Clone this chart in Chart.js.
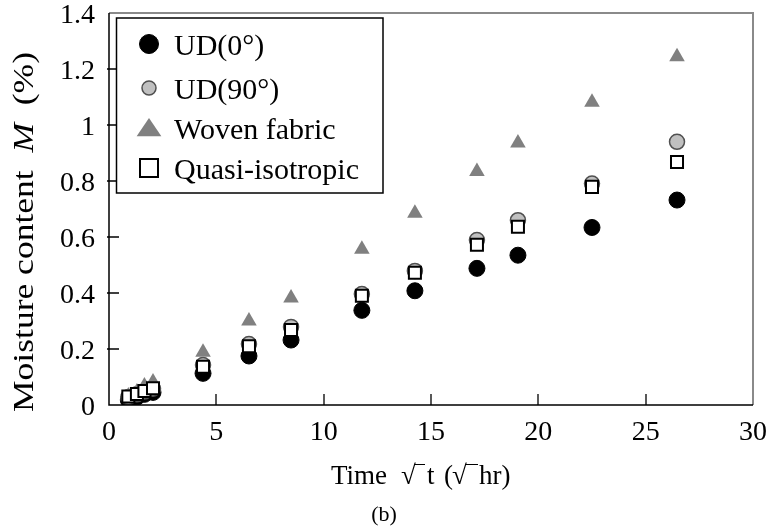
<!DOCTYPE html>
<html>
<head>
<meta charset="utf-8">
<script src="https://cdn.jsdelivr.net/npm/chart.js@4.4.1/dist/chart.umd.min.js"></script>
<style>
  html, body { margin: 0; padding: 0; background: #fff; }
  #wrap { position: relative; width: 773px; height: 526px; }
</style>
</head>
<body>
<div id="wrap"><canvas id="moisture" width="773" height="526"></canvas></div>
<script>
// sqrt(time) values, one per measurement
const timeSqrtHr = [0.9, 1.3, 1.65, 2.05, 4.38, 6.52, 8.48, 11.78, 14.25, 17.14, 19.05, 22.5, 26.46];

// moisture content M (%)
const ud0   = [0.018, 0.028, 0.038, 0.045, 0.113, 0.175, 0.232, 0.338, 0.408, 0.488, 0.535, 0.634, 0.732];
const ud90  = [0.028, 0.038, 0.048, 0.058, 0.143, 0.218, 0.279, 0.396, 0.479, 0.589, 0.660, 0.791, 0.940];
const woven = [0.032, 0.046, 0.068, 0.082, 0.188, 0.300, 0.382, 0.556, 0.685, 0.834, 0.936, 1.081, 1.244];
const quasi = [0.030, 0.039, 0.050, 0.060, 0.137, 0.210, 0.268, 0.390, 0.472, 0.572, 0.637, 0.779, 0.868];

const seriesNames = ['UD(0°)', 'UD(90°)', 'Woven fabric', 'Quasi-isotropic'];
const xTicks = [0, 5, 10, 15, 20, 25, 30];
const yTicks = [0, 0.2, 0.4, 0.6, 0.8, 1, 1.2, 1.4];

const serif = "'Liberation Serif', 'Times New Roman', serif";

const toPoints = vals => vals.map((v, i) => ({ x: timeSqrtHr[i], y: v }));

// marker look per series (plot / legend)
const looks = [
  { style: 'circle',   r: 8,   fill: '#000000', line: '#000000', lw: 1,   order: 4, lr: 9.5 },
  { style: 'circle',   r: 7.5, fill: '#c0c0c0', line: '#505050', lw: 1.5, order: 3, lr: 7 },
  { style: 'triangle', r: 9,   fill: '#808080', line: '#808080', lw: 0,   order: 2, lr: 13 },
  { style: 'rect',     r: 8.5, fill: '#ffffff', line: '#000000', lw: 2,   order: 1, lr: 12.5 }
];

const values = [ud0, ud90, woven, quasi];

const datasets = values.map((vals, i) => ({
  label: seriesNames[i],
  data: toPoints(vals),
  pointStyle: looks[i].style,
  pointRadius: looks[i].r,
  pointBackgroundColor: looks[i].fill,
  pointBorderColor: looks[i].line,
  pointBorderWidth: looks[i].lw,
  showLine: false,
  order: looks[i].order
}));

function drawMarker(ctx, look, x, y, r) {
  ctx.save();
  ctx.fillStyle = look.fill;
  ctx.strokeStyle = look.line;
  ctx.lineWidth = look.lw;
  ctx.beginPath();
  if (look.style === 'circle') {
    ctx.arc(x, y, r, 0, Math.PI * 2);
  } else if (look.style === 'triangle') {
    const h = r * 1.4;
    ctx.moveTo(x, y - h * 0.55);
    ctx.lineTo(x + r * 0.95, y + h * 0.45);
    ctx.lineTo(x - r * 0.95, y + h * 0.45);
    ctx.closePath();
  } else {
    const s = r * 0.72;
    ctx.rect(x - s, y - s, s * 2, s * 2);
  }
  ctx.fill();
  if (look.lw > 0) ctx.stroke();
  ctx.restore();
}

const decorations = {
  id: 'decorations',
  afterDraw(chart) {
    const { ctx, chartArea: a, scales } = chart;
    ctx.save();

    // frame: black left/bottom, gray top/right
    ctx.strokeStyle = '#8a8a8a';
    ctx.lineWidth = 2;
    ctx.beginPath();
    ctx.moveTo(a.left, a.top);
    ctx.lineTo(a.right, a.top);
    ctx.lineTo(a.right, a.bottom);
    ctx.stroke();
    ctx.strokeStyle = '#000';
    ctx.lineWidth = 1.5;
    ctx.beginPath();
    ctx.moveTo(a.left, a.top);
    ctx.lineTo(a.left, a.bottom);
    ctx.lineTo(a.right, a.bottom);
    ctx.stroke();

    // inward ticks
    ctx.lineWidth = 1.3;
    ctx.beginPath();
    xTicks.slice(1, -1).forEach(v => {
      const px = Math.round(scales.x.getPixelForValue(v));
      ctx.moveTo(px, a.bottom);
      ctx.lineTo(px, a.bottom - 11);
    });
    yTicks.slice(1, -1).forEach(v => {
      const py = Math.round(scales.y.getPixelForValue(v));
      ctx.moveTo(a.left - 2, py);
      ctx.lineTo(a.left + 10, py);
    });
    ctx.stroke();

    // legend
    ctx.fillStyle = '#fff';
    ctx.fillRect(116.5, 18, 266.5, 175);
    ctx.strokeStyle = '#000';
    ctx.lineWidth = 1.5;
    ctx.strokeRect(116.5, 18, 266.5, 175);
    const rowBase = [55, 99, 139, 179];
    ctx.font = '30px ' + serif;
    ctx.textBaseline = 'alphabetic';
    ctx.textAlign = 'left';
    seriesNames.forEach((name, i) => {
      drawMarker(ctx, looks[i], 149, rowBase[i] - 11, looks[i].lr);
      ctx.fillStyle = '#000';
      ctx.fillText(name, 174, rowBase[i]);
    });

    // y title with italic M
    ctx.fillStyle = '#000';
    ctx.save();
    ctx.translate(33, 232);
    ctx.rotate(-Math.PI / 2);
    const parts = [
      { t: 'Moisture content  ', f: '30px ' + serif },
      { t: 'M', f: 'italic 30px ' + serif },
      { t: '  (%)', f: '30px ' + serif }
    ];
    let total = 0;
    parts.forEach(p => { ctx.font = p.f; p.w = ctx.measureText(p.t).width; total += p.w; });
    const k = 360 / total;
    ctx.scale(k, 1);
    let cx = -total / 2;
    parts.forEach(p => { ctx.font = p.f; ctx.fillText(p.t, cx, 0); cx += p.w; });
    ctx.restore();

    // x title: Time √t (√hr)
    ctx.font = '27px ' + serif;
    const base = 484;
    ctx.fillText('Time', 331, base);
    ctx.fillText('\u221A', 401, base);
    ctx.fillText('t', 427, base);
    ctx.fillText('(', 444, base);
    ctx.fillText('\u221A', 452, base);
    ctx.fillText('hr)', 479, base);
    ctx.lineWidth = 1;
    ctx.beginPath();
    ctx.moveTo(414, 464.5); ctx.lineTo(425, 464.5);
    ctx.moveTo(465, 464.5); ctx.lineTo(478, 464.5);
    ctx.stroke();

    // caption
    ctx.font = '22px ' + serif;
    ctx.textAlign = 'center';
    ctx.fillText('(b)', 384, 521);

    ctx.restore();
  }
};

new Chart(document.getElementById('moisture'), {
  type: 'scatter',
  data: { datasets },
  options: {
    responsive: false,
    animation: false,
    layout: { padding: { left: 0, top: 13, right: 20, bottom: 0 } },
    plugins: { legend: { display: false }, tooltip: { enabled: false } },
    scales: {
      x: {
        type: 'linear', min: 0, max: 30,
        afterFit: s => { s.height = 121; s.paddingLeft = 0; s.paddingRight = 0; },
        afterBuildTicks: s => { s.ticks = xTicks.map(v => ({ value: v })); },
        grid: { display: false, drawTicks: false },
        border: { display: false },
        ticks: { color: '#000', font: { family: serif, size: 28 }, padding: 11, maxRotation: 0 }
      },
      y: {
        type: 'linear', min: 0, max: 1.4,
        afterFit: s => { s.width = 109; s.paddingTop = 0; s.paddingBottom = 0; },
        afterBuildTicks: s => { s.ticks = yTicks.map(v => ({ value: v })); },
        grid: { display: false, drawTicks: false },
        border: { display: false },
        ticks: { color: '#000', font: { family: serif, size: 28 }, padding: 14, labelOffset: 3,
          callback: v => String(+v.toFixed(1)) }
      }
    }
  },
  plugins: [decorations]
});
</script>
</body>
</html>
